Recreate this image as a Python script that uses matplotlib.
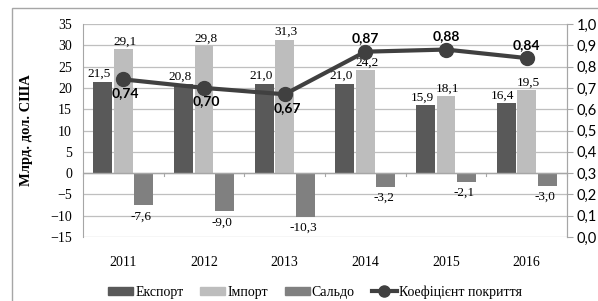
import matplotlib.pyplot as plt
import matplotlib.patches as mpatches
from matplotlib.lines import Line2D
import numpy as np

years = ['2011', '2012', '2013', '2014', '2015', '2016']
export = [21.5, 20.8, 21.0, 21.0, 15.9, 16.4]
imports = [29.1, 29.8, 31.3, 24.2, 18.1, 19.5]
saldo = [-7.6, -9.0, -10.3, -3.2, -2.1, -3.0]
coverage = [0.74, 0.70, 0.67, 0.87, 0.88, 0.84]

serif = 'Liberation Serif'
sans = 'Lato'
c_exp, c_imp, c_sal, c_line = '#595959', '#bdbdbd', '#808080', '#404040'

fig = plt.figure(figsize=(5.98, 3.01), dpi=100)
fig.patches.append(mpatches.Rectangle((12 / 598, -0.1), 1.2, 1 - 8 / 301 + 0.1,
                                      transform=fig.transFigure, fill=False,
                                      edgecolor='#a6a6a6', linewidth=1))
ax = fig.add_axes([83 / 598, 1 - 237 / 301, 484 / 598, 213 / 301])
x = np.arange(len(years))
w = 0.235
off = 0.255

ax.set_axisbelow(True)
ax.yaxis.grid(True, color='#bfbfbf', linewidth=0.9)
ax.bar(x - off, export, w, color=c_exp)
ax.bar(x, imports, w, color=c_imp)
ax.bar(x + off, saldo, w, color=c_sal)

for i in range(len(years)):
    ax.text(x[i] - off - 0.04, export[i] + 0.4, f'{export[i]:.1f}'.replace('.', ','),
            ha='center', va='bottom', family=serif, fontsize=9.5)
    ax.text(x[i] + 0.02, imports[i] + 0.4, f'{imports[i]:.1f}'.replace('.', ','),
            ha='center', va='bottom', family=serif, fontsize=9.5)
    ax.text(x[i] + off - 0.03, saldo[i] - 1.2, f'{saldo[i]:.1f}'.replace('.', ','),
            ha='center', va='top', family=serif, fontsize=9.5)

ax.set_xlim(-0.5, len(years) - 0.5)
ax.set_ylim(-15, 35)
ax.set_yticks(range(-15, 36, 5))
ax.set_xticks(x)
ax.set_xticklabels(years, family=serif, fontsize=10)
ax.tick_params(axis='x', length=0, pad=14)
ax.tick_params(axis='y', length=0, labelsize=10, pad=8)
for lab in ax.get_yticklabels():
    lab.set_family(serif)
ax.set_ylabel('Млрд. дол. США', family=serif, fontweight='bold', fontsize=10.5, labelpad=12)
ax.spines['top'].set_visible(False)
ax.spines['bottom'].set_visible(False)
ax.spines['left'].set_color('#a6a6a6')
ax.spines['right'].set_color('#a6a6a6')
ax.axhline(0, color='#a6a6a6', linewidth=1, zorder=1)
for b in np.arange(-0.5, len(years), 1):
    ax.plot([b, b], [0, -0.6], color='#a6a6a6', linewidth=0.8, clip_on=False)

ax2 = ax.twinx()
ax2.set_ylim(0, 1.0)
ax2.set_yticks(np.arange(0, 1.01, 0.1))
ax2.set_yticklabels([f'{v:.1f}'.replace('.', ',') for v in np.arange(0, 1.01, 0.1)],
                    fontsize=10.5, family=sans)
ax2.tick_params(axis='y', length=4, color='#a6a6a6', pad=3)
for s in ['top', 'left', 'bottom']:
    ax2.spines[s].set_visible(False)
ax2.spines['right'].set_color('#a6a6a6')
ax2.plot(x, coverage, color=c_line, linewidth=3, marker='o', markersize=10, zorder=5)
for i, v in enumerate(coverage):
    if i < 3:
        ax2.text(x[i] + 0.03, v - 0.035, f'{v:.2f}'.replace('.', ','), ha='center', va='top',
                 fontweight='bold', fontsize=10, family=sans)
    else:
        ax2.text(x[i], v + 0.035, f'{v:.2f}'.replace('.', ','), ha='center', va='bottom',
                 fontweight='bold', fontsize=10, family=sans)

handles = [mpatches.Patch(color=c_exp), mpatches.Patch(color=c_imp),
           mpatches.Patch(color=c_sal),
           Line2D([0], [0], color=c_line, linewidth=3, marker='o', markersize=8)]
labels = ['Експорт', 'Імпорт', 'Сальдо', 'Коефіцієнт покриття']
fig.legend(handles, labels, loc='center', bbox_to_anchor=(315 / 598, 1 - 292 / 301),
           ncol=4, frameon=False, prop={'family': serif, 'size': 10},
           handlelength=1.8, handleheight=0.45, handletextpad=0.15, columnspacing=1.2)

fig.savefig('out.png', dpi=100)
